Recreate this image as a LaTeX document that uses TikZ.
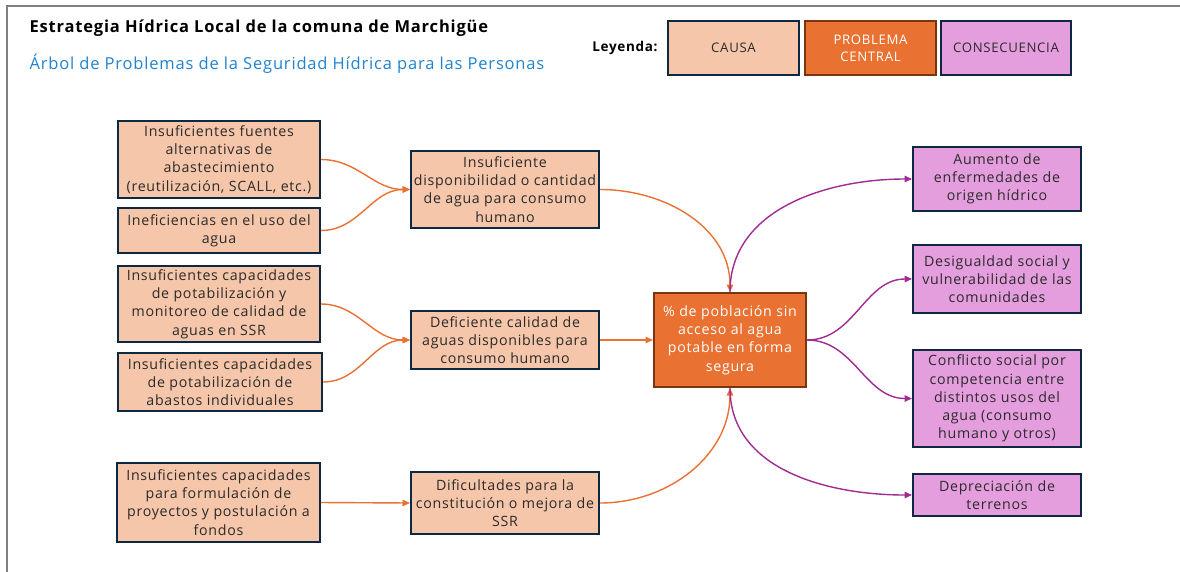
\documentclass[tikz,border=0pt]{standalone}
\usepackage{fontspec}
\setmainfont{Open Sans}[LetterSpace=5]
\usetikzlibrary{arrows.meta}
\definecolor{causafill}{HTML}{F5C6A9}
\definecolor{centralfill}{HTML}{E97132}
\definecolor{conseqfill}{HTML}{E59EDD}
\definecolor{boxline}{HTML}{0E2841}
\definecolor{centralline}{HTML}{7A3510}
\definecolor{flechanar}{HTML}{E97132}
\definecolor{flechamor}{HTML}{A02B93}
\definecolor{subtit}{HTML}{1F83CF}
\definecolor{texto}{HTML}{2B2B2B}
\begin{document}
\begin{tikzpicture}[x=1pt,y=-1pt,
  causa/.style={draw=boxline, line width=2pt, fill=causafill, text=texto, align=center, inner sep=0pt, font=\fontsize{14.2}{18.2}\selectfont},
  central/.style={causa, draw=centralline, fill=centralfill, text=white},
  conseq/.style={causa, fill=conseqfill},
  nar/.style={flechanar, line width=1.4pt, -{Triangle[length=7.5pt,width=6.5pt]}},
  mor/.style={flechamor, line width=1.4pt, -{Triangle[length=7.5pt,width=6.5pt]}}]
\useasboundingbox (0,0) rectangle (1180,571);
\draw[gray, line width=1.3pt] (7,575) -- (7,6) -- (1185,6);
% titulo
\node[anchor=west, font=\fontsize{16.5}{18}\selectfont\bfseries] (titulo) at (26,28.5) {Estrategia Hídrica Local de la comuna de Marchigüe};
\node[anchor=west, text=subtit, font=\fontsize{16.5}{18}\selectfont] (subtitulo) at (26,63.5) {Árbol de Problemas de la Seguridad Hídrica para las Personas};
% leyenda
\node[anchor=east, font=\fontsize{13.5}{16}\selectfont\bfseries] (leyenda) at (661,48) {Leyenda:};
\node[causa, minimum width=131pt, minimum height=54pt, font=\fontsize{13.2}{17}\selectfont] (lcausa) at (733.5,48) {CAUSA};
\node[central, minimum width=131pt, minimum height=54pt, font=\fontsize{13.2}{17}\selectfont] (lcentral) at (870.5,48) {PROBLEMA\\CENTRAL};
\node[conseq, minimum width=130pt, minimum height=54pt, font=\fontsize{13.2}{17}\selectfont] (lconseq) at (1006,48) {CONSECUENCIA};
% causas
\node[causa, minimum width=202pt, minimum height=77pt] (c1) at (219,159.5) {Insuficientes fuentes\\alternativas de\\abastecimiento\\(reutilización, SCALL, etc.)};
\node[causa, minimum width=202pt, minimum height=45pt] (c2) at (219,230.5) {Ineficiencias en el uso del\\agua};
\node[causa, minimum width=202pt, minimum height=76pt] (c3) at (219,304) {Insuficientes capacidades\\de potabilización y\\monitoreo de calidad de\\aguas en SSR};
\node[causa, minimum width=204pt, minimum height=58pt] (c4) at (220,382) {Insuficientes capacidades\\de potabilización de\\abastos individuales};
\node[causa, minimum width=203pt, minimum height=79pt] (c5) at (218.5,502.5) {Insuficientes capacidades\\para formulación de\\proyectos y postulación a\\fondos};
\node[causa, minimum width=188pt, minimum height=77pt] (m1) at (505,189.5) {Insuficiente\\disponibilidad o cantidad\\de agua para consumo\\humano};
\node[causa, minimum width=188pt, minimum height=58pt] (m2) at (505,340) {Deficiente calidad de\\aguas disponibles para\\consumo humano};
\node[causa, minimum width=188pt, minimum height=62pt] (m3) at (505,503) {Dificultades para la\\constitución o mejora de\\SSR};
% problema central
\node[central, minimum width=152pt, minimum height=94pt] (pc) at (730,340) {\% de población sin\\acceso al agua\\potable en forma\\segura};
% consecuencias
\node[conseq, minimum width=168pt, minimum height=64pt] (e1) at (997,179) {Aumento de\\enfermedades de\\origen hídrico};
\node[conseq, minimum width=168pt, minimum height=68pt] (e2) at (997,279) {Desigualdad social y\\vulnerabilidad de las\\comunidades};
\node[conseq, minimum width=168pt, minimum height=97pt] (e3) at (997,398.5) {Conflicto social por\\competencia entre\\distintos usos del\\agua (consumo\\humano y otros)};
\node[conseq, minimum width=168pt, minimum height=42pt] (e4) at (997,495) {Depreciación de\\terrenos};
% flechas
\draw[nar] (c1.east) to[out=0,in=180] (m1.west);
\draw[nar] (c2.east) to[out=0,in=180] (m1.west);
\draw[nar] (c3.east) to[out=0,in=180] (m2.west);
\draw[nar] (c4.east) to[out=0,in=180] (m2.west);
\draw[nar] (c5.east) -- (m3.west);
\draw[nar] (m1.east) to[out=0,in=90] (pc.north);
\draw[nar] (m2.east) -- (pc.west);
\draw[nar] (m3.east) to[out=0,in=-90] (pc.south);
\draw[mor] (pc.north) to[out=90,in=180] (e1.west);
\draw[mor] (pc.east) to[out=0,in=180] (e2.west);
\draw[mor] (pc.east) to[out=0,in=180] (e3.west);
\draw[mor] (pc.south) to[out=-90,in=180] (e4.west);
\end{tikzpicture}
\end{document}
